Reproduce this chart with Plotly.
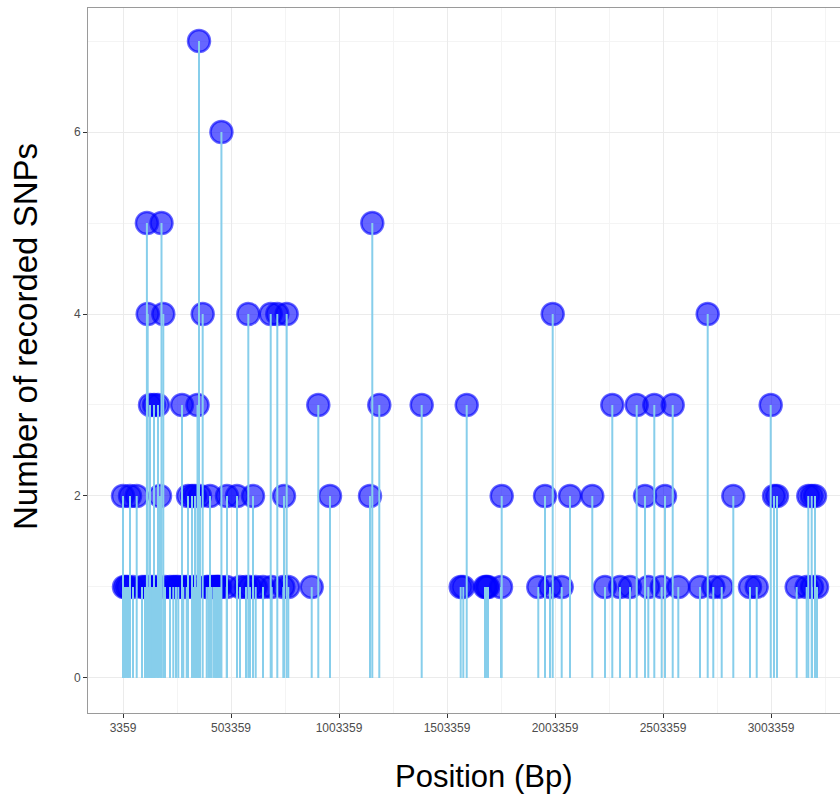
import plotly.graph_objects as go

# ---- data (position in bp, number of recorded SNPs) ----
pos_count1 = [8000, 17200, 26500, 49700, 91300, 105200, 120500, 137600, 156100, 197800,
              221000, 236200, 248700, 259400, 282500, 298300, 328800, 344600, 390900,
              398300, 414000, 424700, 433900, 439900, 444600, 452400, 483500, 545000,
              572800, 591300, 617700, 651500, 691800, 745500, 768600, 877000, 1566800,
              1578800, 1679300, 1686200, 1693200, 1753400, 1926000, 1980200, 2034400,
              2234800, 2304300, 2350600, 2435300, 2497300, 2574200, 2674700, 2736200,
              2775100, 2906100, 2937200, 3122300, 3168600, 3193200, 3216300]
pos_count2 = [3359, 35800, 66800, 174700, 304300, 322800, 336700, 359800, 406100, 484800,
              531100, 605200, 748700, 961700, 1146900, 1756600, 1957100, 2072800, 2176000,
              2420000, 2512600, 2828800, 3017200, 3031100, 3176000, 3191800, 3207100]
pos_count3 = [128400, 146900, 165400, 276500, 348300, 907500, 1189900, 1386200, 1594600,
              2268600, 2381600, 2463100, 2548300, 3002000]
pos_count4 = [117700, 189900, 372300, 583500, 687200, 717700, 761200, 1992700, 2710300]
pos_count5 = [114000, 181600, 1157500]
pos_count6 = [459000]
pos_count7 = [355200]

x_tick_vals = [3359, 503359, 1003359, 1503359, 2003359, 2503359, 3003359]
x_tick_text = ["3359", "503359", "1003359", "1503359", "2003359", "2503359", "3003359"]
y_tick_vals = [0, 2, 4, 6]

groups = [(1, pos_count1), (2, pos_count2), (3, pos_count3), (4, pos_count4),
          (5, pos_count5), (6, pos_count6), (7, pos_count7)]
positions, counts = [], []
for c, plist in groups:
    for p in plist:
        positions.append(p)
        counts.append(c)

# stems
stem_x, stem_y = [], []
for p, c in zip(positions, counts):
    stem_x += [p, p, None]
    stem_y += [0, c, None]

fig = go.Figure()
fig.add_trace(go.Scatter(
    x=positions, y=counts, mode="markers",
    marker=dict(size=22, color="rgba(0,0,255,0.6)",
                line=dict(color="rgba(0,0,255,0.6)", width=2.5)),
    hoverinfo="x+y", showlegend=False))
fig.add_trace(go.Scatter(
    x=stem_x, y=stem_y, mode="lines",
    line=dict(color="#87ceeb", width=2), hoverinfo="skip", showlegend=False))

minor_x = [(a + b) / 2 for a, b in zip(x_tick_vals[:-1], x_tick_vals[1:])]
minor_x = [x_tick_vals[0] - 250000] + minor_x + [x_tick_vals[-1] + 250000]

font_family = "Liberation Sans, Arial, Helvetica, sans-serif"
fig.update_layout(
    width=840, height=795,
    margin=dict(l=88, r=0, t=8, b=82),
    paper_bgcolor="white", plot_bgcolor="white",
    font=dict(family=font_family, color="#4d4d4d"),
    xaxis=dict(
        range=[-158678, 3322803], tickmode="array",
        tickvals=x_tick_vals, ticktext=x_tick_text,
        ticks="outside", ticklen=4, tickcolor="#333333", tickwidth=1,
        tickfont=dict(size=12, color="#4d4d4d"),
        showgrid=True, gridcolor="#ebebeb", gridwidth=1,
        minor=dict(tickmode="array", tickvals=minor_x, showgrid=True,
                   gridcolor="#f4f4f4", gridwidth=0.6, ticks=""),
        showline=True, linecolor="#9a9a9a", linewidth=1, mirror=True,
        zeroline=False),
    yaxis=dict(
        range=[-0.385, 7.363], tickmode="array", tickvals=y_tick_vals,
        ticks="outside", ticklen=4, tickcolor="#333333", tickwidth=1,
        tickfont=dict(size=12, color="#4d4d4d"),
        showgrid=True, gridcolor="#ebebeb", gridwidth=1,
        minor=dict(tickmode="array", tickvals=[1, 3, 5, 7], showgrid=True,
                   gridcolor="#f4f4f4", gridwidth=0.6, ticks=""),
        showline=True, linecolor="#9a9a9a", linewidth=1, mirror=False,
        zeroline=False),
    annotations=[
        dict(text="Position (Bp)", xref="paper", yref="paper",
             x=(483.5 - 88) / 752, y=(713 - 776) / 705,
             xanchor="center", yanchor="middle", showarrow=False,
             font=dict(size=31, color="black", family=font_family)),
        dict(text="Number of recorded SNPs", xref="paper", yref="paper",
             x=(25 - 88) / 752, y=(713 - 337) / 705, textangle=-90,
             xanchor="center", yanchor="middle", showarrow=False,
             font=dict(size=33, color="black", family=font_family)),
    ],
)

fig.write_html("out.html")
